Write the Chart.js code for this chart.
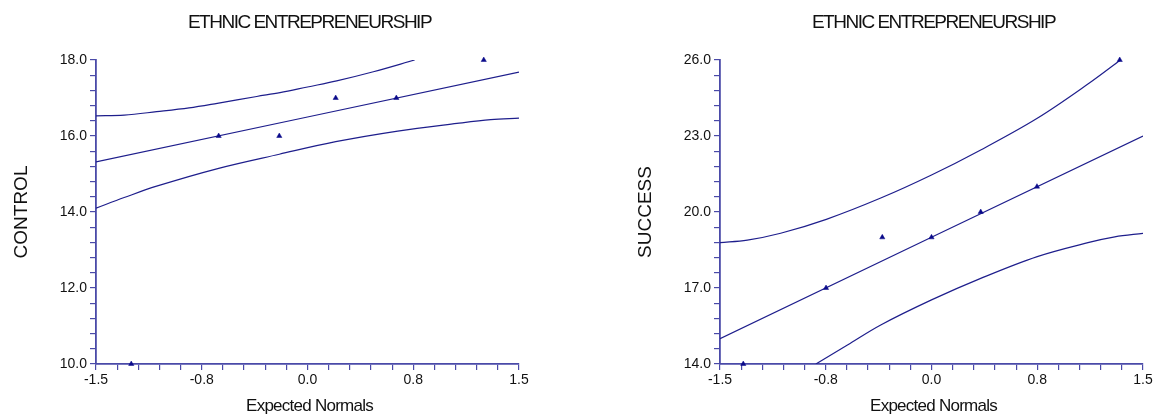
<!DOCTYPE html>
<html>
<head>
<meta charset="utf-8">
<script src="https://cdn.jsdelivr.net/npm/chart.js@4.4.1/dist/chart.umd.min.js"></script>
<style>
  html, body { margin: 0; padding: 0; background: #ffffff; }
  body { width: 1165px; height: 416px; position: relative; overflow: hidden; }
  .panel { position: absolute; top: 0; }
  #leftPanel { left: 0; }
  #rightPanel { left: 582px; }
</style>
</head>
<body>
<div class="panel" id="leftPanel"><canvas id="controlChart" width="582" height="416"></canvas></div>
<div class="panel" id="rightPanel"><canvas id="successChart" width="583" height="416"></canvas></div>
<script>
// Shared horizontal axis: expected normal scores
const xMajorTicks = [-1.5, -0.75, 0, 0.75, 1.5];
const xTickLabels = ['-1.5', '-0.8', '0.0', '0.8', '1.5'];

const chartTitle = 'ETHNIC ENTREPRENEURSHIP';
const xTitle = 'Expected Normals';

// CONTROL panel
const controlTitle = 'CONTROL';
const controlYMajor = [10, 12, 14, 16, 18];
const controlYLabels = ['10.0', '12.0', '14.0', '16.0', '18.0'];
const controlNormals = [-1.25, -0.63, -0.20, 0.20, 0.63, 1.25];
const controlValues = [10, 16, 16, 17, 17, 18];
const controlFitX = [-1.5, 1.5];
const controlFitY = [15.32, 17.68];
const controlUpperX = [-1.5, -1.3, -1.07, -0.84, -0.64, -0.36, -0.195, 0.0, 0.207, 0.467, 0.76];
const controlUpperY = [16.53, 16.55, 16.64, 16.74, 16.86, 17.04, 17.14, 17.29, 17.45, 17.69, 18.0];
const controlLowerX = [-1.5, -1.3, -1.07, -0.63, -0.2, 0.2, 0.64, 1.06, 1.3, 1.5];
const controlLowerY = [14.10, 14.38, 14.68, 15.15, 15.52, 15.85, 16.13, 16.33, 16.43, 16.47];

// SUCCESS panel
const successTitle = 'SUCCESS';
const successYMajor = [14, 17, 20, 23, 26];
const successYLabels = ['14.0', '17.0', '20.0', '23.0', '26.0'];
const successNormals = [-1.335, -0.748, -0.349, 0, 0.349, 0.748, 1.335];
const successValues = [14, 17, 19, 19, 20, 21, 26];
const successFitX = [-1.5, 1.5];
const successFitY = [15.0, 23.0];
const successUpperX = [-1.5, -1.306, -1.07, -0.746, -0.36, 0.0, 0.349, 0.75, 1.117, 1.34];
const successUpperY = [18.79, 18.89, 19.16, 19.71, 20.55, 21.46, 22.45, 23.70, 25.08, 26.0];
const successLowerX = [-0.82, -0.596, -0.36, 0.0, 0.349, 0.75, 1.117, 1.3, 1.5];
const successLowerY = [14.0, 14.75, 15.54, 16.53, 17.38, 18.24, 18.80, 19.02, 19.16];

const MINOR_STEPS = 5;
const LINE = '#1e1e8c';
const MARK = '#0a0a8a';
const AXIS = '#4a4aa8';
const FONT = "'Liberation Sans', Arial, Helvetica, sans-serif";

function pairs(xs, ys) { return xs.map((x, i) => ({ x: x, y: ys[i] })); }

// Major ticks carry labels; each interval is split into minor ticks without labels
function tickList(majors, labels) {
  const out = [];
  for (let i = 0; i < majors.length; i++) {
    out.push({ value: majors[i], label: labels[i], major: true });
    if (i < majors.length - 1) {
      const step = (majors[i + 1] - majors[i]) / MINOR_STEPS;
      for (let k = 1; k < MINOR_STEPS; k++) out.push({ value: majors[i] + step * k, label: '' });
    }
  }
  return out;
}

// Titles drawn with tight letter spacing
const titlePlugin = {
  id: 'panelTitles',
  afterDraw(chart, args, opts) {
    const { ctx, chartArea } = chart;
    const cx = (chartArea.left + chartArea.right) / 2;
    ctx.save();
    ctx.fillStyle = '#111111';
    ctx.textAlign = 'center';
    ctx.textBaseline = 'alphabetic';

    ctx.font = '19px ' + FONT;
    ctx.letterSpacing = '-1.5px';
    ctx.fillText(chartTitle, cx + 2, 28);

    ctx.font = '17px ' + FONT;
    ctx.letterSpacing = '-0.75px';
    ctx.fillText(xTitle, cx + 2, 411);

    ctx.font = '19px ' + FONT;
    ctx.letterSpacing = '0px';
    ctx.translate(chartArea.left - 69, (chartArea.top + chartArea.bottom) / 2);
    ctx.rotate(-Math.PI / 2);
    ctx.fillText(opts.yTitle, 0, 0);
    ctx.restore();
  }
};

function makeChart(canvasId, cfg) {
  const plotLeft = cfg.plotLeft, plotRight = cfg.plotRight;
  const canvasW = document.getElementById(canvasId).width;
  const lineDs = (xs, ys) => ({
    type: 'scatter',
    data: pairs(xs, ys),
    showLine: true,
    borderColor: LINE,
    borderWidth: 1.2,
    pointRadius: 0,
    pointHoverRadius: 0,
    tension: 0.35,
    fill: false
  });
  return new Chart(document.getElementById(canvasId), {
    type: 'scatter',
    data: {
      datasets: [
        {
          data: pairs(cfg.normals, cfg.values),
          pointStyle: 'triangle',
          pointRadius: 3,
          backgroundColor: MARK,
          borderColor: MARK,
          borderWidth: 0.5,
          clip: false
        },
        lineDs(cfg.fitX, cfg.fitY),
        lineDs(cfg.upperX, cfg.upperY),
        lineDs(cfg.lowerX, cfg.lowerY)
      ]
    },
    options: {
      responsive: false,
      animation: false,
      devicePixelRatio: 1,
      layout: { padding: { left: 0, top: 60, right: canvasW - plotRight, bottom: 0 } },
      plugins: {
        legend: { display: false },
        tooltip: { enabled: false },
        panelTitles: { yTitle: cfg.yTitle }
      },
      scales: {
        x: {
          type: 'linear',
          position: 'bottom',
          min: -1.5,
          max: 1.5,
          afterBuildTicks: (s) => { s.ticks = tickList(xMajorTicks, xTickLabels); },
          afterFit: (s) => { s.height = 52; },
          ticks: {
            autoSkip: false,
            maxRotation: 0,
            padding: 2,
            color: '#111111',
            font: { family: FONT, size: 14 },
            callback: function (v, i, ticks) { return ticks[i].label; }
          },
          grid: { drawOnChartArea: false, drawTicks: true, tickLength: 6, color: AXIS, lineWidth: 1.2 },
          border: { display: true, color: AXIS, width: 1.8 }
        },
        y: {
          type: 'linear',
          position: 'left',
          min: cfg.yMajor[0],
          max: cfg.yMajor[cfg.yMajor.length - 1],
          afterBuildTicks: (s) => { s.ticks = tickList(cfg.yMajor, cfg.yLabels); },
          afterFit: (s) => { s.width = plotLeft; },
          ticks: {
            autoSkip: false,
            padding: 3,
            color: '#111111',
            font: { family: FONT, size: 14 },
            callback: function (v, i, ticks) { return ticks[i].label; }
          },
          grid: { drawOnChartArea: false, drawTicks: true, tickLength: 6, color: AXIS, lineWidth: 1.2 },
          border: { display: true, color: AXIS, width: 1.8 }
        }
      }
    },
    plugins: [titlePlugin]
  });
}

makeChart('controlChart', {
  plotLeft: 96, plotRight: 519,
  yTitle: controlTitle,
  yMajor: controlYMajor, yLabels: controlYLabels,
  normals: controlNormals, values: controlValues,
  fitX: controlFitX, fitY: controlFitY,
  upperX: controlUpperX, upperY: controlUpperY,
  lowerX: controlLowerX, lowerY: controlLowerY
});

makeChart('successChart', {
  plotLeft: 138, plotRight: 561,
  yTitle: successTitle,
  yMajor: successYMajor, yLabels: successYLabels,
  normals: successNormals, values: successValues,
  fitX: successFitX, fitY: successFitY,
  upperX: successUpperX, upperY: successUpperY,
  lowerX: successLowerX, lowerY: successLowerY
});
</script>
</body>
</html>
